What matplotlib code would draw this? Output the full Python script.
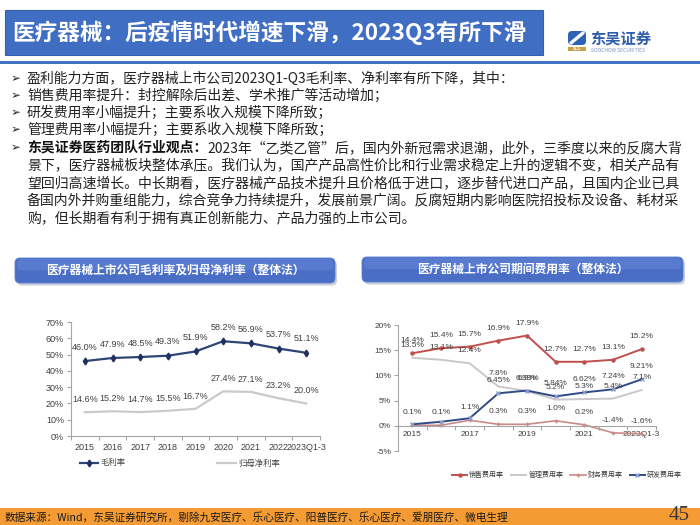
import matplotlib
matplotlib.use('Agg')
import matplotlib.pyplot as plt
from matplotlib.patches import Rectangle, FancyBboxPatch
from matplotlib.ticker import FixedLocator, FuncFormatter

plt.rcParams['font.family'] = ['Noto Sans CJK SC', 'DejaVu Sans']

# ---------------- data ----------------
years = ['2015', '2016', '2017', '2018', '2019', '2020', '2021', '2022', '2023Q1-3']
gross_margin = [46.0, 47.9, 48.5, 49.3, 51.9, 58.2, 56.9, 53.7, 51.1]
net_margin = [14.6, 15.2, 14.7, 15.5, 16.7, 27.4, 27.1, 23.2, 20.0]

sales_rate = [14.4, 15.4, 15.7, 16.9, 17.9, 12.7, 12.7, 13.1, 15.2]
admin_rate = [13.5, 13.1, 12.4, 7.8, 6.9, 5.2, 5.3, 5.4, 7.1]
fin_rate = [0.1, 0.1, 1.1, 0.3, 0.3, 1.0, 0.2, -1.4, -1.6]
rd_rate = [0.3, 0.8, 1.5, 6.45, 6.99, 5.84, 6.62, 7.24, 9.21]
rd_labels = [None, None, None, '6.45%', '6.99%', '5.84%', '6.62%', '7.24%', '9.21%']

left_ticks = [0, 10, 20, 30, 40, 50, 60, 70]
right_ticks = [-5, 0, 5, 10, 15, 20]

title_text = '医疗器械：后疫情时代增速下滑，2023Q3有所下滑'
bullets = [
    ('', '盈利能力方面，医疗器械上市公司2023Q1-Q3毛利率、净利率有所下降，其中：'),
    ('', '销售费用率提升：封控解除后出差、学术推广等活动增加；'),
    ('', '研发费用率小幅提升；主要系收入规模下降所致；'),
    ('', '管理费用率小幅提升；主要系收入规模下降所致；'),
    ('东吴证券医药团队行业观点：', '2023年“乙类乙管”后，国内外新冠需求退潮，此外，三季度以来的反腐大背'),
]
cont_lines = [
    '景下，医疗器械板块整体承压。我们认为，国产产品高性价比和行业需求稳定上升的逻辑不变，相关产品有',
    '望回归高速增长。中长期看，医疗器械产品技术提升且价格低于进口，逐步替代进口产品，且国内企业已具',
    '备国内外并购重组能力，综合竞争力持续提升，发展前景广阔。反腐短期内影响医院招投标及设备、耗材采',
    '购，但长期看有利于拥有真正创新能力、产品力强的上市公司。',
]
left_title = '医疗器械上市公司毛利率及归母净利率（整体法）'
right_title = '医疗器械上市公司期间费用率（整体法）'
source_text = '数据来源：Wind，东吴证券研究所，剔除九安医疗、乐心医疗、阳普医疗、乐心医疗、爱朋医疗、微电生理'
page_no = '45'

# ---------------- figure ----------------
W, H = 700, 525
fig = plt.figure(figsize=(7, 5.25), dpi=100)
fig.patch.set_facecolor('white')

bg = fig.add_axes([0, 0, 1, 1], zorder=0)
bg.set_xlim(0, W)
bg.set_ylim(H, 0)
bg.axis('off')

# title bar
bg.add_patch(Rectangle((5, 10), 538, 45, facecolor='#3F6EC3', edgecolor='#3560B0', lw=0.8))
bg.text(12, 33, title_text, color='white', fontsize=16.3, fontweight='bold', va='center', ha='left')

# logo
bg.add_patch(FancyBboxPatch((568, 31), 18, 14, boxstyle='round,pad=0,rounding_size=4',
                            facecolor='#2F62B5', edgecolor='none'))
bg.plot([571, 583], [43, 33], color='white', lw=2.4, solid_capstyle='round')
bg.add_patch(Rectangle((568, 46.5), 18, 4, facecolor='#C9A14A', edgecolor='none'))
bg.text(577, 48.5, 'SCS', color='white', fontsize=3, ha='center', va='center', fontweight='bold')
bg.text(590, 39, '东吴证券', color='#2F5DAE', fontsize=11, fontweight='bold', ha='left', va='center')
bg.text(591, 50, 'SOOCHOW SECURITIES', color='#7E94BF', fontsize=3.6, ha='left', va='center')

# separator
bg.add_patch(Rectangle((0, 61), W, 3, facecolor='#4472C4', edgecolor='none'))

# bullets
line_y = [79, 96, 113, 130, 148, 165, 183, 200, 218]
fs = 10
for i, (bold, normal) in enumerate(bullets):
    y = line_y[i]
    bg.text(11, y, '➢', fontsize=8.5, va='center', ha='left', color='#222222', family=['DejaVu Sans'])
    if bold:
        t1 = bg.text(27, y, bold, fontsize=fs, fontweight='bold', va='center', ha='left', color='#111111')
        bg.annotate(normal, xy=(1, 0.5), xycoords=t1, va='center', ha='left', fontsize=fs, color='#222222')
    else:
        bg.text(27, y, normal, fontsize=fs, va='center', ha='left', color='#222222')
for j, s in enumerate(cont_lines):
    bg.text(27, line_y[5 + j], s, fontsize=fs, va='center', ha='left', color='#222222')


# chart title boxes
def title_box(x0, y0, w, h, text):
    bg.add_patch(FancyBboxPatch((x0 + 2, y0 + 2.5), w, h, boxstyle='round,pad=0,rounding_size=5',
                                facecolor='#C9CED8', edgecolor='none'))
    bg.add_patch(FancyBboxPatch((x0, y0), w, h, boxstyle='round,pad=0,rounding_size=5',
                                facecolor='#4A6EC6', edgecolor='#5A7FD4', lw=0.6))
    bg.add_patch(FancyBboxPatch((x0 + 2, y0 + 1), w - 4, h * 0.45, boxstyle='round,pad=0,rounding_size=4',
                                facecolor='#6A8CDB', edgecolor='none', alpha=0.45))
    bg.text(x0 + w / 2, y0 + h / 2, text, color='white', fontsize=8.5, fontweight='bold',
            ha='center', va='center')


title_box(15, 258, 320, 25, left_title)
title_box(362, 257, 321, 25, right_title)

# footer
bg.add_patch(Rectangle((0, 508), W, 17, facecolor='#F59B34', edgecolor='none'))
bg.text(5, 517, source_text, fontsize=7.7, va='center', ha='left', color='#1A1A1A')
bg.text(690, 516, page_no, fontsize=15, va='center', ha='right', color='#3A3A3A', family=['Liberation Serif'])

x = list(range(len(years)))
axis_col = '#A6A6A6'
lab_col = '#404040'


def style_axes(ax):
    ax.patch.set_alpha(0)
    for s in ['top', 'right']:
        ax.spines[s].set_visible(False)
    for s in ['left', 'bottom']:
        ax.spines[s].set_color(axis_col)
        ax.spines[s].set_linewidth(0.8)
    ax.tick_params(axis='both', which='both', colors=axis_col, labelcolor=lab_col, width=0.8)


# ---------------- left chart ----------------
ax1 = fig.add_axes([71 / W, 1 - 436 / H, (320 - 71) / W, (436 - 322) / H], zorder=2)
style_axes(ax1)
ax1.set_xlim(-0.5, len(years) - 0.5)
ax1.set_ylim(0, 70)
ax1.yaxis.set_major_locator(FixedLocator(left_ticks))
ax1.yaxis.set_major_formatter(FuncFormatter(lambda v, p: f'{v:.0f}%'))
ax1.set_xticks(x)
ax1.set_xticklabels(years)
ax1.set_xticks([i - 0.5 for i in range(len(years) + 1)], minor=True)
ax1.tick_params(axis='x', which='major', length=0, pad=5, labelsize=6.5)
ax1.tick_params(axis='x', which='minor', length=3, direction='out')
ax1.tick_params(axis='y', length=3, direction='out', labelsize=6.5, pad=2)
for lab in ax1.get_xticklabels() + ax1.get_yticklabels():
    lab.set_family(['Liberation Sans', 'DejaVu Sans'])

l1, = ax1.plot(x, gross_margin, color='#2E4578', lw=1.6, marker='d', ms=3.5, mfc='#1F3060', mec='#1F3060')
l2, = ax1.plot(x, net_margin, color='#CACACA', lw=1.6)
for xi, v in zip(x, gross_margin):
    ax1.annotate(f'{v:.1f}%', (xi, v), xytext=(0, 10), textcoords='offset points', ha='center',
                 va='center', fontsize=6.5, color=lab_col, family=['Liberation Sans'])
for xi, v in zip(x, net_margin):
    ax1.annotate(f'{v:.1f}%', (xi, v), xytext=(0, 9), textcoords='offset points', ha='center',
                 va='center', fontsize=6.5, color=lab_col, family=['Liberation Sans'])

fig.legend([l1, l2], ['毛利率', '归母净利率'], loc='center', bbox_to_anchor=(180 / W, 1 - 463 / H),
           ncol=2, frameon=False, fontsize=6, columnspacing=11, handlelength=2.2, handletextpad=0.3,
           labelcolor=lab_col)

# ---------------- right chart ----------------
ax2 = fig.add_axes([398 / W, 1 - 451 / H, (656 - 398) / W, (451 - 325) / H], zorder=2)
style_axes(ax2)
ax2.spines['bottom'].set_position(('data', 0))
ax2.set_xlim(-0.5, len(years) - 0.5)
ax2.set_ylim(-5, 20)
ax2.yaxis.set_major_locator(FixedLocator(right_ticks))
ax2.yaxis.set_major_formatter(FuncFormatter(lambda v, p: f'{v:.0f}%'))
ax2.set_xticks(x[::2])
ax2.set_xticklabels(years[::2])
ax2.set_xticks([i - 0.5 for i in range(len(years) + 1)], minor=True)
ax2.tick_params(axis='x', which='major', length=0, pad=4, labelsize=6)
ax2.tick_params(axis='x', which='minor', length=3, direction='out')
ax2.tick_params(axis='y', length=3, direction='out', labelsize=6, pad=2)
for lab in ax2.get_xticklabels() + ax2.get_yticklabels():
    lab.set_family(['Liberation Sans', 'DejaVu Sans'])

c_sales, c_admin, c_fin, c_rd = '#C0504D', '#C8C8C8', '#C98A88', '#2F4A86'
r1, = ax2.plot(x, sales_rate, color=c_sales, lw=1.4, marker='o', ms=2.2)
r2, = ax2.plot(x, admin_rate, color=c_admin, lw=1.4)
r3, = ax2.plot(x, fin_rate, color=c_fin, lw=1.2, marker='+', ms=3.5)
r4, = ax2.plot(x, rd_rate, color=c_rd, lw=1.4, marker='x', ms=3, mec='#8A9CC8')

lab_kw = dict(textcoords='offset points', ha='center', va='center', fontsize=6, color=lab_col,
              family=['Liberation Sans'])
for xi, v in zip(x, sales_rate):
    ax2.annotate(f'{v:.1f}%', (xi, v), xytext=(0, 9), **lab_kw)
for xi, v in zip(x, admin_rate):
    ax2.annotate(f'{v:.1f}%', (xi, v), xytext=(0, 9), **lab_kw)
for xi, v in zip(x, fin_rate):
    ax2.annotate(f'{v:.1f}%', (xi, v), xytext=(0, 9), **lab_kw)
for xi, v, s in zip(x, rd_rate, rd_labels):
    if s:
        ax2.annotate(s, (xi, v), xytext=(0, 9), **lab_kw)

fig.legend([r1, r2, r3, r4], ['销售费用率', '管理费用率', '财务费用率', '研发费用率'], loc='center',
           bbox_to_anchor=(567 / W, 1 - 475 / H), ncol=4, frameon=False, fontsize=5,
           columnspacing=1.0, handlelength=2.2, handletextpad=0.3, labelcolor=lab_col)

fig.savefig('out.png', dpi=100, facecolor='white')
